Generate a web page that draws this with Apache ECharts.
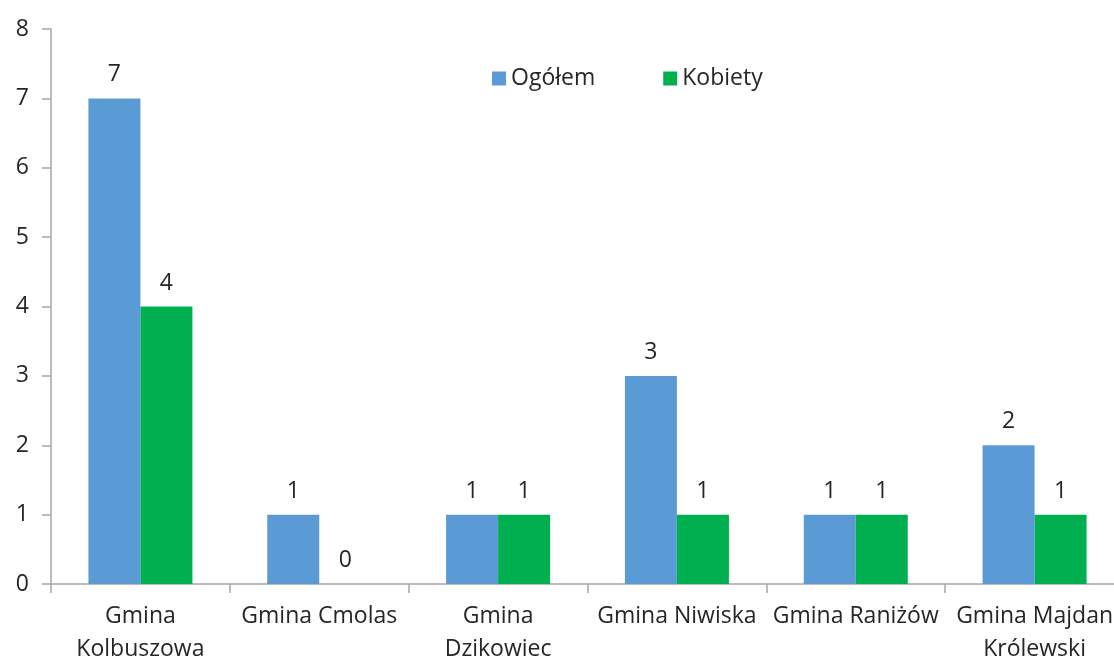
<!DOCTYPE html>
<html>
<head>
<meta charset="utf-8">
<script src="https://cdn.jsdelivr.net/npm/echarts@6/dist/echarts.min.js"></script>
<style>
  html, body { margin: 0; padding: 0; background: #fff; }
  #chart { width: 1114px; height: 660px; }
</style>
</head>
<body>
<div id="chart"></div>
<script>
const categories = [
  'Gmina\nKolbuszowa',
  'Gmina Cmolas',
  'Gmina\nDzikowiec',
  'Gmina Niwiska',
  'Gmina Raniżów',
  'Gmina Majdan\nKrólewski'
]
const ogolem = [7, 1, 1, 3, 1, 2]
const kobiety = [4, 0, 1, 1, 1, 1]
const yTicks = [0, 1, 2, 3, 4, 5, 6, 7, 8]

const FONT = 'Open Sans'
const TEXT = '#262626'
const AXIS = '#A6A6A6'

const chart = echarts.init(document.getElementById('chart'))

const labelStyle = {
  show: true,
  position: 'top',
  distance: 12,
  fontFamily: FONT,
  fontSize: 23,
  color: TEXT
}

chart.setOption({
  animation: false,
  textStyle: { fontFamily: FONT },
  legend: {
    left: 487,
    top: 62,
    itemWidth: 14,
    itemHeight: 14,
    itemGap: 68,
    icon: 'rect',
    textStyle: { fontFamily: FONT, fontSize: 23, color: TEXT },
    data: ['Ogółem', 'Kobiety']
  },
  grid: {
    left: 51,
    right: -10,
    top: 29,
    bottom: 76,
    outerBoundsMode: 'none',
    containLabel: false
  },
  xAxis: {
    type: 'category',
    data: categories,
    axisLine: { lineStyle: { color: AXIS, width: 1.5 } },
    axisTick: { show: true, length: 9, inside: false, lineStyle: { color: AXIS, width: 1.5 } },
    axisLabel: {
      interval: 0,
      margin: 16,
      fontFamily: FONT,
      fontSize: 23,
      lineHeight: 33,
      color: TEXT
    },
    splitLine: { show: false }
  },
  yAxis: {
    type: 'value',
    min: yTicks[0],
    max: yTicks[yTicks.length - 1],
    interval: 1,
    axisLine: { show: true, lineStyle: { color: AXIS, width: 1.5 } },
    axisTick: { show: true, length: 9, lineStyle: { color: AXIS, width: 1.5 } },
    axisLabel: {
      margin: 22,
      fontFamily: FONT,
      fontSize: 23,
      color: TEXT
    },
    splitLine: { show: false }
  },
  series: [
    {
      name: 'Ogółem',
      type: 'bar',
      data: ogolem,
      barWidth: 52,
      barGap: '0%',
      itemStyle: { color: '#5B9BD5' },
      label: labelStyle
    },
    {
      name: 'Kobiety',
      type: 'bar',
      data: kobiety,
      barWidth: 52,
      itemStyle: { color: '#00B050' },
      label: labelStyle
    }
  ]
})
</script>
</body>
</html>
